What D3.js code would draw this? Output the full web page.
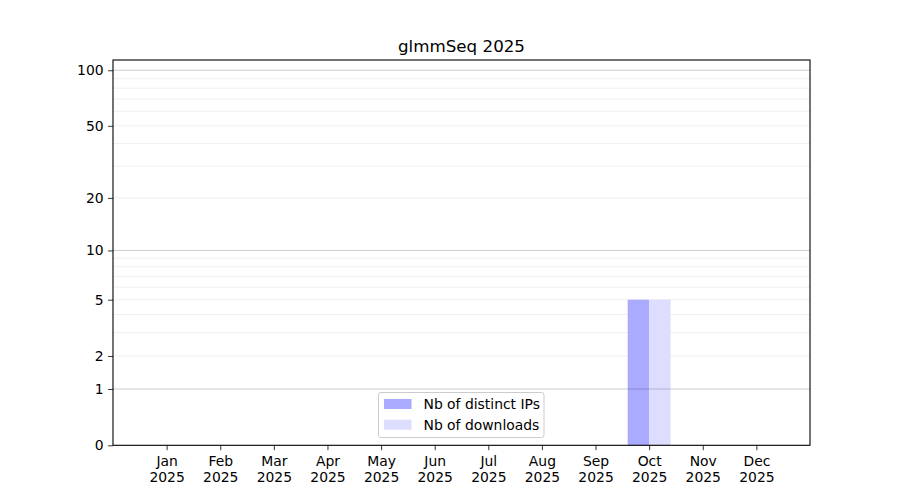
<!DOCTYPE html>
<html>
<head>
<meta charset="utf-8">
<script src="https://cdn.jsdelivr.net/npm/d3@7"></script>
<style>
  body { margin: 0; background: #fff; }
  text { font-family: "DejaVu Sans", sans-serif; fill: #000; }
</style>
</head>
<body>
<script>
//data
var months = ["Jan", "Feb", "Mar", "Apr", "May", "Jun", "Jul", "Aug", "Sep", "Oct", "Nov", "Dec"];
var yearLabel = "2025";
var distinctIPs = [0, 0, 0, 0, 0, 0, 0, 0, 0, 5, 0, 0];
var downloads = [0, 0, 0, 0, 0, 0, 0, 0, 0, 5, 0, 0];
var yTicks = [0, 1, 2, 5, 10, 20, 50, 100];
var majorGrid = [1, 10, 100];
var minorGrid = [2, 3, 4, 5, 6, 7, 8, 9, 20, 30, 40, 50, 60, 70, 80, 90];
var seriesNames = ["Nb of distinct IPs", "Nb of downloads"];
var chartTitle = "glmmSeq 2025";

(function(){

    var width = 900, height = 500;
    var left = 113, right = 810, top = 60, bottom = 445.3;

    var svg = d3.select("body").append("svg")
        .attr("width", width)
        .attr("height", height);

    //months evenly spaced, one empty slot each side
    var x = d3.scaleLinear()
        .domain([-1, 12])
        .range([left, right]);

    //log(1+y) like scale
    var y = d3.scaleSymlog()
        .constant(1)
        .domain([0, 113.6])
        .range([bottom, top]);

    var barW = x(0.4) - x(0);

    //minor grid
    svg.append("g").selectAll("line")
        .data(minorGrid)
        .enter().append("line")
        .attr("x1", left).attr("x2", right)
        .attr("y1", function(d){ return y(d); })
        .attr("y2", function(d){ return y(d); })
        .attr("stroke", "#ebebeb")
        .attr("stroke-width", 0.8);

    //bars
    svg.append("g").selectAll("rect")
        .data(distinctIPs)
        .enter().append("rect")
        .attr("x", function(d, i){ return x(i) - barW; })
        .attr("y", function(d){ return y(d); })
        .attr("width", barW)
        .attr("height", function(d){ return y(0) - y(d); })
        .attr("fill", "#aaaaff");

    svg.append("g").selectAll("rect")
        .data(downloads)
        .enter().append("rect")
        .attr("x", function(d, i){ return x(i); })
        .attr("y", function(d){ return y(d); })
        .attr("width", barW)
        .attr("height", function(d){ return y(0) - y(d); })
        .attr("fill", "#ddddff");

    //major grid
    svg.append("g").selectAll("line")
        .data(majorGrid)
        .enter().append("line")
        .attr("x1", left).attr("x2", right)
        .attr("y1", function(d){ return y(d); })
        .attr("y2", function(d){ return y(d); })
        .attr("stroke", "rgba(0,0,0,0.2)")
        .attr("stroke-width", 1);

    //y axis
    var yAxis = svg.append("g")
        .attr("transform", "translate(" + left + ",0)")
        .call(d3.axisLeft(y).tickValues(yTicks).tickFormat(d3.format("d"))
            .tickSize(4.9).tickPadding(4.5));
    yAxis.select(".domain").remove();
    yAxis.selectAll("line").attr("stroke", "#000").attr("stroke-width", 0.8);
    yAxis.selectAll("text").attr("font-size", "13.9px").attr("font-family", "DejaVu Sans").attr("fill", "#000");

    //x axis
    var xAxis = svg.append("g")
        .attr("transform", "translate(0," + bottom + ")")
        .call(d3.axisBottom(x).tickValues(d3.range(months.length))
            .tickFormat(function(i){ return months[i]; })
            .tickSize(4.9).tickPadding(4.5));
    xAxis.select(".domain").remove();
    xAxis.selectAll("line").attr("stroke", "#000").attr("stroke-width", 0.8);
    xAxis.selectAll("text").attr("font-size", "13.9px").attr("font-family", "DejaVu Sans").attr("fill", "#000")
        .each(function(i){
            var t = d3.select(this);
            t.text(null).attr("dy", null);
            t.append("tspan").attr("x", 0).attr("dy", "0.78em").text(months[i]);
            t.append("tspan").attr("x", 0).attr("dy", "1.17em").text(yearLabel);
        });

    //frame
    svg.append("rect")
        .attr("x", left).attr("y", top)
        .attr("width", right - left).attr("height", bottom - top)
        .attr("fill", "none")
        .attr("stroke", "#000")
        .attr("stroke-width", 1.1);

    //title
    svg.append("text")
        .attr("x", (left + right) / 2)
        .attr("y", 52)
        .attr("text-anchor", "middle")
        .attr("font-size", "16.7px")
        .text(chartTitle);

    //legend
    var lg = svg.append("g").attr("transform", "translate(378.5,392.5)");
    lg.append("rect")
        .attr("width", 165.5).attr("height", 45)
        .attr("rx", 2.5)
        .attr("fill", "rgba(255,255,255,0.8)")
        .attr("stroke", "#cccccc")
        .attr("stroke-width", 1);
    var colors = ["#aaaaff", "#ddddff"];
    seriesNames.forEach(function(name, i){
        lg.append("rect")
            .attr("x", 5.5).attr("y", 6.5 + i * 20.7)
            .attr("width", 27.5).attr("height", 10)
            .attr("fill", colors[i]);
        lg.append("text")
            .attr("x", 45).attr("y", 16.5 + i * 20.7)
            .attr("font-size", "13.9px")
            .text(name);
    });

})();
</script>
</body>
</html>
